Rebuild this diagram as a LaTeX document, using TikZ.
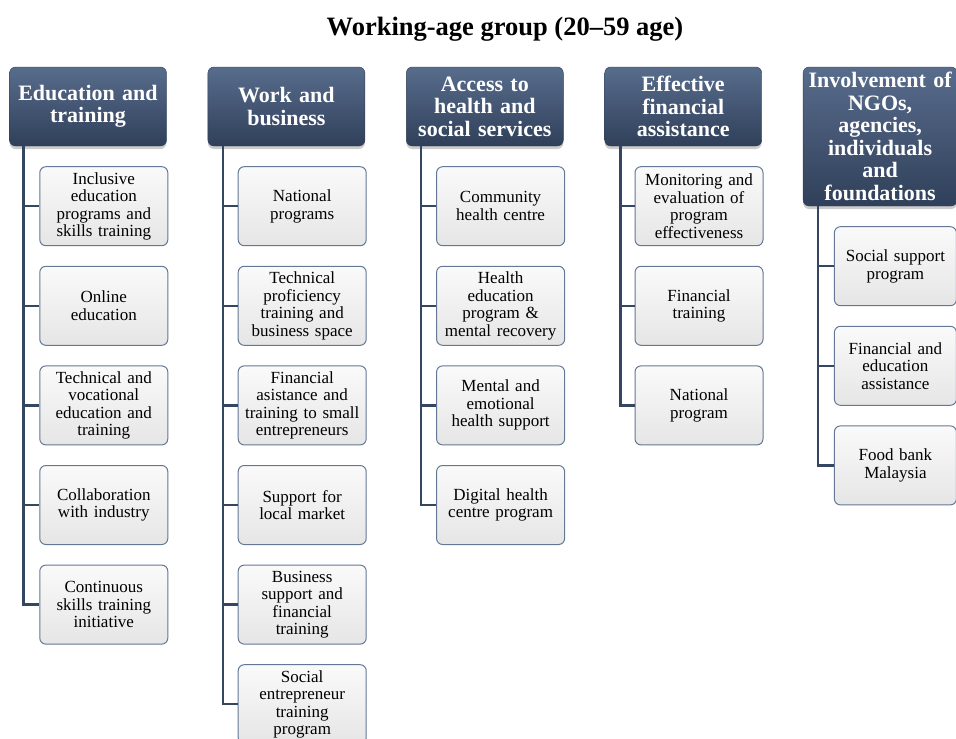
\documentclass[tikz,border=0pt]{standalone}
\usepackage{fontspec}
\setmainfont{Liberation Serif}
\usetikzlibrary{positioning, shadows}
\definecolor{headtop}{RGB}{88,108,140}
\definecolor{headbot}{RGB}{48,64,90}
\definecolor{linkcol}{RGB}{52,70,96}
\definecolor{itemline}{RGB}{100,120,150}
\tikzset {
    head/.style={draw=headbot, rounded corners=6pt, top color=headtop, bottom color=headbot,
        text=white, font=\fontsize{22}{22.5}\selectfont\bfseries, align=center,
        text width=147pt, inner xsep=5pt, minimum height=79pt,
        drop shadow={shadow xshift=0pt, shadow yshift=-3pt, opacity=.4}},
    item/.style={draw=itemline, line width=1pt, rounded corners=6pt, top color=gray!4,
        bottom color=gray!20, font=\fontsize{17}{17.5}\selectfont, align=center,
        text width=120pt, inner xsep=4pt, minimum height=79pt},
    link/.style={draw=linkcol, line width=2.4pt}
}

\begin{document}
\begin{tikzpicture}[x=1pt, y=-1pt]
    \useasboundingbox (0,0) rectangle (956,739);

    \node[font=\fontsize{26.5}{30}\selectfont\bfseries] (title) at (505,29) {Working-age group (20--59 age)};

    % column heads
    \node[head] (edu) at (88,106.5) {Education and\\training};
    \node[head, right=41pt of edu] (work) {Work and\\business};
    \node[head, right=41pt of work] (health) {Access to\\health and\\social services};
    \node[head, right=41pt of health] (fin) {Effective\\financial\\assistance};
    \node[head, right=41pt of fin.north east, anchor=north west, text width=144pt,
        minimum height=139pt] (ngo) {Involvement of\\NGOs,\\agencies,\\individuals\\and\\foundations};

    % education and training
    \node[item, below right=20pt and 30pt of edu.south west] (e1) {Inclusive\\education\\programs and\\skills training};
    \node[item, below=19.6pt of e1] (e2) {Online\\education};
    \node[item, below=19.6pt of e2] (e3) {Technical and\\vocational\\education and\\training};
    \node[item, below=19.6pt of e3] (e4) {Collaboration\\with industry};
    \node[item, below=19.6pt of e4] (e5) {Continuous\\skills training\\initiative};

    % work and business
    \node[item, below right=20pt and 30pt of work.south west] (w1) {National\\programs};
    \node[item, below=19.6pt of w1] (w2) {Technical\\proficiency\\training and\\business space};
    \node[item, below=19.6pt of w2] (w3) {Financial\\asistance and\\training to small\\entrepreneurs};
    \node[item, below=19.6pt of w3] (w4) {Support for\\local market};
    \node[item, below=19.6pt of w4] (w5) {Business\\support and\\financial\\training};
    \node[item, below=19.6pt of w5] (w6) {Social\\entrepreneur\\training\\program};

    % health and social services
    \node[item, below right=20pt and 30pt of health.south west] (a1) {Community\\health centre};
    \node[item, below=19.6pt of a1] (a2) {Health\\education\\program \&\\mental recovery};
    \node[item, below=19.6pt of a2] (a3) {Mental and\\emotional\\health support};
    \node[item, below=19.6pt of a3] (a4) {Digital health\\centre program};

    % financial assistance
    \node[item, below right=20pt and 30pt of fin.south west] (f1) {Monitoring and\\evaluation of\\program\\effectiveness};
    \node[item, below=19.6pt of f1] (f2) {Financial\\training};
    \node[item, below=19.6pt of f2] (f3) {National\\program};

    % NGOs
    \node[item, below right=20pt and 31pt of ngo.south west, text width=114pt] (n1) {Social support\\program};
    \node[item, below=19.6pt of n1, text width=114pt] (n2) {Financial and\\education\\assistance};
    \node[item, below=19.6pt of n2, text width=114pt] (n3) {Food bank\\Malaysia};

    \foreach \i in {1,...,5} \draw[link] ([xshift=14pt]edu.south west) |- (e\i.west);
    \foreach \i in {1,...,6} \draw[link] ([xshift=15pt]work.south west) |- (w\i.west);
    \foreach \i in {1,...,4} \draw[link] ([xshift=15pt]health.south west) |- (a\i.west);
    \foreach \i in {1,...,3} \draw[link] ([xshift=16pt]fin.south west) |- (f\i.west);
    \foreach \i in {1,...,3} \draw[link] ([xshift=15pt]ngo.south west) |- (n\i.west);
\end{tikzpicture}
\end{document}
